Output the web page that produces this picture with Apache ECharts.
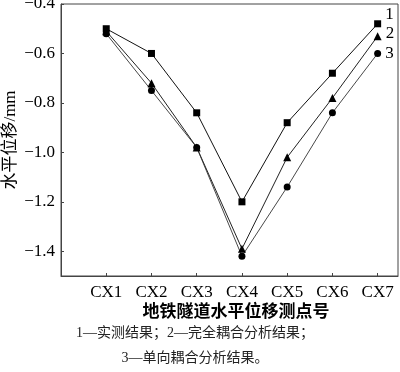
<!DOCTYPE html>
<html>
<head>
<meta charset="utf-8">
<script src="https://cdn.jsdelivr.net/npm/echarts@6/dist/echarts.min.js"></script>
<style>html,body{margin:0;padding:0;background:#fff}#c{width:400px;height:372px}</style>
</head>
<body>
<div id="c"></div>
<script>
var categories = ['CX1','CX2','CX3','CX4','CX5','CX6','CX7'];
var measured = [-0.50, -0.60, -0.84, -1.20, -0.88, -0.68, -0.48];
var fullCoupled = [-0.51, -0.72, -0.98, -1.39, -1.02, -0.78, -0.53];
var oneWay = [-0.52, -0.75, -0.98, -1.42, -1.14, -0.84, -0.60];
var yTicks = [-1.4, -1.2, -1.0, -0.8, -0.6, -0.4];
var seriesNames = ['1','2','3'];
var captionLines = ['1—实测结果；2—完全耦合分析结果；', '3—单向耦合分析结果。'];
var xTitle = '地铁隧道水平位移测点号';
var yTitle = '水平位移/mm';

var FONT = "'Liberation Serif', 'Noto Sans CJK SC', serif";
function toData(arr, labelOffset) {
  return arr.map(function (v, i) {
    var d = { value: [i + 1, v] };
    if (i === arr.length - 1) {
      d.label = { show: true, position: 'right', distance: 4, offset: labelOffset };
    }
    return d;
  });
}
function lbl(p) { return p.seriesName; }
var chart = echarts.init(document.getElementById('c'), null, { renderer: 'canvas' });
chart.setOption({
  animation: false,
  backgroundColor: '#fff',
  grid: { left: 61, right: 2, top: 4, bottom: 96, show: true, borderColor: '#444', borderWidth: 1, outerBoundsMode: 'none', containLabel: false },
  xAxis: {
    type: 'value', min: 0, max: 7.45,
    name: xTitle, nameLocation: 'middle', nameGap: 28, nameMoveOverlap: false,
    nameTextStyle: { fontFamily: FONT, fontSize: 17, fontWeight: 'bold', color: '#000', padding: [0, 0, 0, 13] },
    axisLine: { show: true, onZero: false, lineStyle: { color: '#444', width: 1 } },
    axisTick: { show: true, inside: true, length: 3, customValues: [1,2,3,4,5,6,7], lineStyle: { color: '#444' } },
    axisLabel: {
      customValues: [1,2,3,4,5,6,7], margin: 8,
      fontFamily: FONT, fontSize: 17, color: '#000',
      formatter: function (v) { return categories[Math.round(v) - 1] || ''; }
    },
    splitLine: { show: false }
  },
  yAxis: {
    type: 'value', min: -1.5, max: -0.4,
    name: yTitle, nameLocation: 'middle', nameGap: 42, nameMoveOverlap: false,
    nameTextStyle: { fontFamily: FONT, fontSize: 17, color: '#000' },
    axisLine: { show: true, lineStyle: { color: '#444', width: 1 } },
    axisTick: { show: true, inside: true, length: 3, customValues: yTicks, lineStyle: { color: '#444' } },
    axisLabel: {
      customValues: yTicks, margin: 6,
      fontFamily: FONT, fontSize: 17, color: '#000',
      formatter: function (v) { return v.toFixed(1).replace('-', '\u2212'); }
    },
    splitLine: { show: false }
  },
  series: [
    {
      name: seriesNames[0], type: 'line', data: toData(measured, [0, -9]),
      symbol: 'rect', symbolSize: 7, color: '#000',
      lineStyle: { color: '#111', width: 1 }, itemStyle: { color: '#000' },
      label: { formatter: lbl, fontFamily: FONT, fontSize: 17, color: '#000' }
    },
    {
      name: seriesNames[1], type: 'line', data: toData(fullCoupled, [0, -3]),
      symbol: 'triangle', symbolSize: 8, color: '#000',
      lineStyle: { color: '#222', width: 1 }, itemStyle: { color: '#000' },
      label: { formatter: lbl, fontFamily: FONT, fontSize: 17, color: '#000' }
    },
    {
      name: seriesNames[2], type: 'line', data: toData(oneWay, [0, 0]),
      symbol: 'circle', symbolSize: 7, color: '#000',
      lineStyle: { color: '#333', width: 0.9 }, itemStyle: { color: '#000' },
      label: { formatter: lbl, fontFamily: FONT, fontSize: 17, color: '#000' }
    }
  ],
  graphic: [
    { type: 'text', x: 195, y: 333, style: { text: captionLines[0], fontFamily: FONT, fontSize: 14, fill: '#222', textAlign: 'center', textVerticalAlign: 'middle' } },
    { type: 'text', x: 195, y: 358, style: { text: captionLines[1], fontFamily: FONT, fontSize: 14, fill: '#222', textAlign: 'center', textVerticalAlign: 'middle' } }
  ]
});
</script>
</body>
</html>
